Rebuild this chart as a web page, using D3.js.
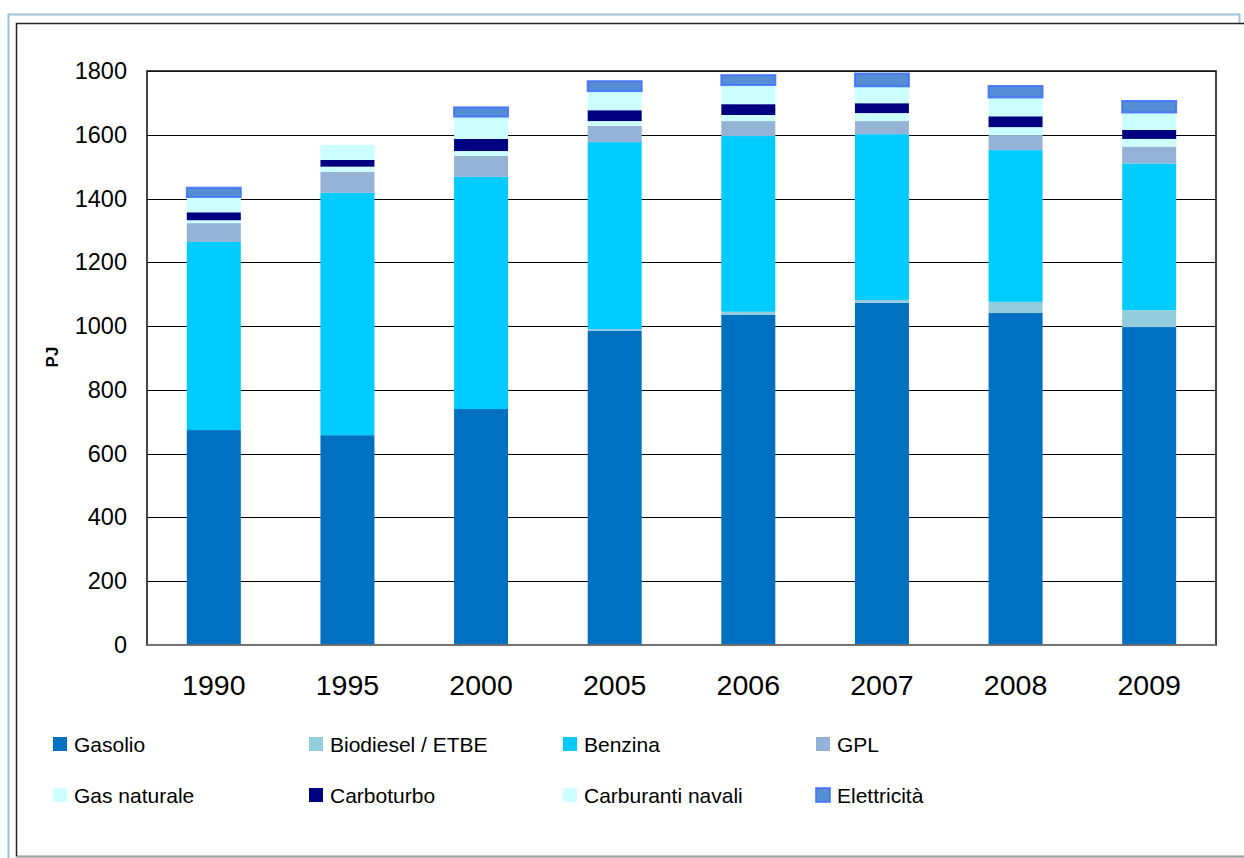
<!DOCTYPE html>
<html>
<head>
<meta charset="utf-8">
<script src="https://cdn.jsdelivr.net/npm/d3@7"></script>
<style>
  html, body { margin: 0; padding: 0; background: #fff; }
  svg { display: block; font-family: "Liberation Sans", Arial, sans-serif; }
</style>
</head>
<body>
<svg id="chart" width="1244" height="858"></svg>
<script>
// Consumi energetici nei trasporti (PJ) per fonte
const years = ["1990", "1995", "2000", "2005", "2006", "2007", "2008", "2009"];

const gasolio          = [674, 658, 740, 986, 1035, 1073, 1041, 997];
const biodiesel        = [0, 0, 0, 5, 10, 9, 35, 53];
const benzina          = [590, 760, 728, 586, 551, 520, 476, 460];
const gpl              = [59, 66, 66, 51, 47, 41, 47, 53];
const gasNaturale      = [9, 16, 15, 15, 19, 25, 25, 24];
const carboturbo       = [25, 21, 38, 34, 34, 31, 34, 28];
const carburantiNavali = [48, 47, 70, 60, 60, 53, 59, 55];
const elettricita      = [29, 0, 29, 31, 31, 40, 36, 36];

const yTicks = [0, 200, 400, 600, 800, 1000, 1200, 1400, 1600, 1800];

const seriesNames = ["Gasolio", "Biodiesel / ETBE", "Benzina", "GPL",
                     "Gas naturale", "Carboturbo", "Carburanti navali", "Elettricità"];
const seriesValues = [gasolio, biodiesel, benzina, gpl,
                      gasNaturale, carboturbo, carburantiNavali, elettricita];
const seriesColors = ["#0070C0", "#93CDDD", "#00CCFF", "#95B3D7",
                      "#CCFFFF", "#000080", "#CCFFFF", "#558ED5"];

const rows = years.map((y, i) => {
  const r = { year: y };
  seriesNames.forEach((n, k) => { r[n] = seriesValues[k][i]; });
  return r;
});

const svg = d3.select("#chart");

// outer frames
svg.append("rect").attr("x", 8.5).attr("y", 14.5).attr("width", 1231).attr("height", 860)
  .attr("fill", "none").attr("stroke", "#9CC0D8").attr("stroke-width", 2);
svg.append("rect").attr("x", 16.5).attr("y", 23.5).attr("width", 1240).attr("height", 833)
  .attr("fill", "#fff").attr("stroke", "#222").attr("stroke-width", 1.5);
svg.append("line").attr("x1", 16).attr("x2", 1244).attr("y1", 857).attr("y2", 857)
  .attr("stroke", "#c8c8c8").attr("stroke-width", 1.5);

const plot = { left: 147, top: 71, right: 1216, bottom: 645 };

const x = d3.scaleBand().domain(years)
  .range([plot.left, plot.right]).paddingInner(0.596).paddingOuter(0.298);
const y = d3.scaleLinear().domain([0, 1800]).range([plot.bottom, plot.top]);

// gridlines
svg.append("g").selectAll("line").data(yTicks.filter(t => t > 0)).join("line")
  .attr("x1", plot.left).attr("x2", plot.right)
  .attr("y1", d => Math.round(y(d)) + 0.5).attr("y2", d => Math.round(y(d)) + 0.5)
  .attr("stroke", "#000").attr("stroke-width", 1);

// stacked bars
const stack = d3.stack().keys(seriesNames);
const layers = stack(rows);

const gBars = svg.append("g");
layers.forEach((layer, k) => {
  const isElec = seriesNames[k] === "Elettricità";
  gBars.append("g").selectAll("rect").data(layer.filter(d => d[1] > d[0])).join("rect")
    .attr("x", d => x(d.data.year))
    .attr("width", x.bandwidth())
    .attr("y", d => y(d[1]))
    .attr("height", d => y(d[0]) - y(d[1]))
    .attr("fill", seriesColors[k])
    .attr("stroke", isElec ? "#3F6FFF" : "none")
    .attr("stroke-opacity", isElec ? 0.85 : 0)
    .attr("stroke-width", isElec ? 2 : 0);
});

// plot border and baseline
svg.append("rect").attr("x", plot.left).attr("y", plot.top)
  .attr("width", plot.right - plot.left).attr("height", plot.bottom - plot.top)
  .attr("fill", "none").attr("stroke", "#1a1a1a").attr("stroke-width", 1.6);
svg.append("line").attr("x1", plot.left).attr("x2", plot.right)
  .attr("y1", plot.bottom).attr("y2", plot.bottom)
  .attr("stroke", "#808080").attr("stroke-width", 1.6);

// y axis labels
const yAxis = d3.axisLeft(y).tickValues(yTicks).tickFormat(d3.format("d"))
  .tickSize(0).tickPadding(20);
const gy = svg.append("g").attr("transform", `translate(${plot.left},0)`).call(yAxis);
gy.select(".domain").remove();
gy.selectAll("text").attr("font-size", 23.5).attr("fill", "#000")
  .attr("font-family", "Liberation Sans, Arial, sans-serif");

// x axis labels
const xAxis = d3.axisBottom(x).tickSize(0).tickPadding(30);
const gx = svg.append("g").attr("transform", `translate(0,${plot.bottom})`).call(xAxis);
gx.select(".domain").remove();
gx.selectAll("text").attr("font-size", 28.5).attr("fill", "#000")
  .attr("font-family", "Liberation Sans, Arial, sans-serif");

// y axis title
svg.append("text").attr("transform", "translate(58,357) rotate(-90)")
  .attr("text-anchor", "middle").attr("font-weight", "bold").attr("font-size", 17)
  .text("PJ");

// legend
const legCols = [53, 309, 563, 816];
const legRows = [744, 795];
const leg = svg.append("g");
seriesNames.forEach((n, k) => {
  const cx = legCols[k % 4], cy = legRows[Math.floor(k / 4)];
  const isElec = n === "Elettricità";
  leg.append("rect").attr("x", cx).attr("y", cy - 7).attr("width", 14).attr("height", 14)
    .attr("fill", seriesColors[k])
    .attr("stroke", isElec ? "#3F6FFF" : "none").attr("stroke-width", isElec ? 1.5 : 0);
  leg.append("text").attr("x", cx + 21).attr("y", cy).attr("dy", "0.36em")
    .attr("font-size", 21).attr("fill", "#000").text(n);
});
</script>
</body>
</html>
